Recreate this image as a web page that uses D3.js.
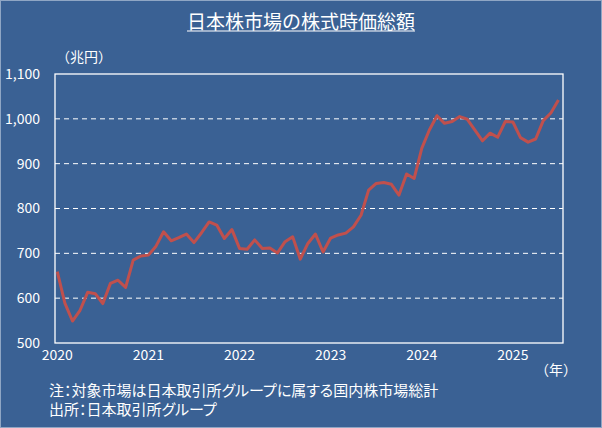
<!DOCTYPE html>
<html>
<head>
<meta charset="utf-8">
<script src="https://cdn.jsdelivr.net/npm/d3@7"></script>
<style>
  html, body { margin: 0; padding: 0; background: #3a6194; }
  svg { display: block; font-family: "Noto Sans CJK JP", "Noto Sans", sans-serif; }
</style>
</head>
<body>
<div id="chart"></div>
<script>
// monthly market cap (trillion yen), Jan 2020 .. Jul 2025
const years = [2020, 2021, 2022, 2023, 2024, 2025];
const yTicks = [500, 600, 700, 800, 900, 1000, 1100];
const capValues = [
    659, 589, 549, 573, 613, 610, 588, 633, 640, 624, 685, 694,   // 2020
    696, 716, 748, 728, 735, 743, 724, 746, 770, 763, 733, 753,   // 2021
    711, 709, 730, 711, 712, 701, 726, 737, 687, 722, 743, 703,   // 2022
    734, 741, 745, 759, 785, 841, 856, 858, 854, 830, 877, 867,   // 2023
    934, 975, 1007, 990, 994, 1005, 999, 975, 951, 968, 959, 994, // 2024
    993, 958, 948, 955, 996, 1013, 1042                           // 2025
];

const width = 602, height = 428;
const frame = { left: 55, right: 563, top: 74, bottom: 343 };

const svg = d3.select("#chart").append("svg")
    .attr("width", width)
    .attr("height", height);

svg.append("rect")
    .attr("x", 0.5).attr("y", 0.5)
    .attr("width", width - 1).attr("height", height - 1)
    .attr("fill", "#3a6194")
    .attr("stroke", "#8fa6c4")
    .attr("stroke-width", 1);

const x = d3.scaleLinear()
    .domain([-0.3, 66.6])
    .range([frame.left, frame.right]);

const y = d3.scaleLinear()
    .domain([500, 1100])
    .range([frame.bottom, frame.top]);

// grid
svg.append("g")
    .selectAll("line")
    .data(yTicks.filter(v => v > 500 && v < 1100))
    .join("line")
    .attr("x1", frame.left)
    .attr("x2", frame.right)
    .attr("y1", d => y(d))
    .attr("y2", d => y(d))
    .attr("stroke", "#ffffff")
    .attr("stroke-width", 1)
    .attr("stroke-dasharray", "5,4");

// frame
svg.append("rect")
    .attr("x", frame.left)
    .attr("y", frame.top)
    .attr("width", frame.right - frame.left)
    .attr("height", frame.bottom - frame.top)
    .attr("fill", "none")
    .attr("stroke", "#ffffff")
    .attr("stroke-width", 1.3);

// y axis labels
const fmt = d3.format(",");
svg.append("g")
    .selectAll("text")
    .data(yTicks)
    .join("text")
    .attr("x", 40)
    .attr("y", d => y(d))
    .attr("dy", "0.35em")
    .attr("text-anchor", "end")
    .attr("fill", "#ffffff")
    .attr("font-size", 14)
    .text(d => fmt(d));

// x axis labels
svg.append("g")
    .selectAll("text")
    .data(years)
    .join("text")
    .attr("x", d => x((d - 2020) * 12))
    .attr("y", frame.bottom + 12)
    .attr("dy", "0.35em")
    .attr("text-anchor", "middle")
    .attr("fill", "#ffffff")
    .attr("font-size", 14)
    .text(d => d);

// line
const line = d3.line()
    .x((d, i) => x(i))
    .y(d => y(d));

svg.append("path")
    .datum(capValues)
    .attr("d", line)
    .attr("fill", "none")
    .attr("stroke", "#c0504d")
    .attr("stroke-width", 3)
    .attr("stroke-linejoin", "round");

// title
const title = svg.append("text")
    .attr("x", 301)
    .attr("y", 22)
    .attr("dy", "0.35em")
    .attr("text-anchor", "middle")
    .attr("fill", "#ffffff")
    .attr("font-size", 19)
    .text("日本株市場の株式時価総額");

const tb = title.node().getBBox();
svg.append("line")
    .attr("x1", tb.x)
    .attr("x2", tb.x + tb.width)
    .attr("y1", 31)
    .attr("y2", 31)
    .attr("stroke", "#ffffff")
    .attr("stroke-width", 1.2);

svg.append("text")
    .attr("x", 56)
    .attr("y", 57)
    .attr("dy", "0.35em")
    .attr("fill", "#ffffff")
    .attr("font-size", 14)
    .text("（兆円）");

svg.append("text")
    .attr("x", 577)
    .attr("y", 370)
    .attr("dy", "0.35em")
    .attr("text-anchor", "end")
    .attr("fill", "#ffffff")
    .attr("font-size", 14)
    .text("（年）");

const notes = [
    "注：対象市場は日本取引所グループに属する国内株市場総計",
    "出所：日本取引所グループ"
];
svg.append("g")
    .selectAll("text")
    .data(notes)
    .join("text")
    .attr("x", 49)
    .attr("y", (d, i) => 391 + i * 19)
    .attr("dy", "0.35em")
    .attr("fill", "#ffffff")
    .attr("font-size", 15)
    .style("font-feature-settings", "'palt'")
    .text(d => d);
</script>
</body>
</html>
